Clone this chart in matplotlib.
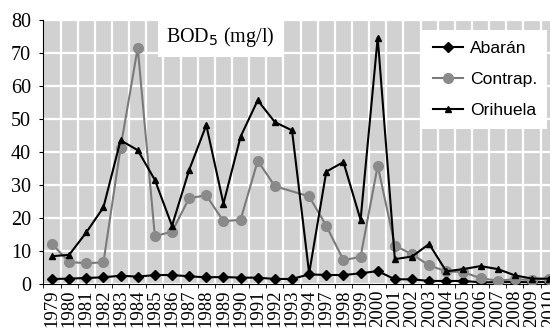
import matplotlib.pyplot as plt
import numpy as np

BG = "#d1d1d1"
GRAY = "#7a7a7a"
SERIF = ["Liberation Serif", "DejaVu Serif"]
SANS = ["Liberation Sans", "DejaVu Sans"]

years = ["1979", "1980", "1981", "1982", "1983", "1984", "1985", "1986",
         "1987", "1988", "1989", "1990", "1991", "1992", "1993", "1994",
         "1997", "1998", "1999", "2000", "2001", "2002", "2003", "2004",
         "2005", "2006", "2007", "2008", "2009", "2010"]

abaran = [1.5, 1.6, 1.8, 2.0, 2.5, 2.2, 2.7, 2.7, 2.3, 2.0, 2.1, 1.9,
          1.9, 1.5, 1.5, 2.9, 2.7, 2.7, 3.2, 3.9, 1.4, 1.4, 0.9, 0.9,
          0.9, 0.5, 0.5, 0.6, 0.5, 0.6]

# no Contrap. value for 1993 (line joins 1992 to 1994)
contrap = [12.1, 6.6, 6.3, 6.5, 41.3, 71.5, 14.5, 15.8, 26.0, 26.8, 19.0,
           19.4, 37.3, 29.6, np.nan, 26.5, 17.6, 7.2, 8.2, 35.8, 11.6, 9.0,
           5.6, 3.8, 3.6, 1.7, 1.0, 1.4, 1.2, 1.6]

orihuela = [8.4, 8.8, 15.6, 23.2, 43.5, 40.5, 31.5, 17.6, 34.5, 48.1, 24.3,
            44.6, 55.6, 49.0, 46.5, 3.2, 34.0, 36.9, 19.4, 74.6, 7.5, 8.3,
            12.1, 3.8, 4.5, 5.4, 4.5, 2.6, 1.6, 1.6]

fig = plt.figure(figsize=(5.5, 3.29), dpi=100)
ax = fig.add_axes([0.079, 0.137, 0.935, 0.803])
ax.set_facecolor(BG)

x = np.arange(len(years))
c = np.array(contrap)
ok = ~np.isnan(c)

ax.plot(x, abaran, color="black", lw=1.5, marker="D", ms=5,
        label="Abarán", zorder=3)
ax.plot(x[ok], c[ok], color=GRAY, lw=1.5, marker="o", ms=7,
        mfc="#8a8a8a", mec="#8a8a8a", label="Contrap.", zorder=3)
ax.plot(x, orihuela, color="black", lw=1.5, marker="^", ms=5,
        label="Orihuela", zorder=4)

ax.set_xlim(-0.5, len(years) - 0.5)
ax.set_ylim(0, 80)
ax.set_yticks(np.arange(0, 81, 10))
ax.set_xticks(x)
ax.set_xticklabels(years, rotation=90, family=SERIF, fontsize=13.5)
ax.set_xticks(np.arange(-0.5, len(years), 1), minor=True)
ax.tick_params(axis="x", which="major", length=0, pad=4)
ax.tick_params(axis="x", which="minor", length=3, direction="out")
ax.tick_params(axis="y", length=3, pad=6, labelsize=14.5)
for lab in ax.get_yticklabels():
    lab.set_family(SERIF)

ax.grid(True, which="minor", axis="x", color="white", lw=1.6)
ax.grid(True, which="major", axis="y", color="white", lw=1.6)
ax.set_axisbelow(True)
for s in ["top", "right"]:
    ax.spines[s].set_visible(False)
ax.spines["left"].set_color("black")
ax.spines["bottom"].set_color("black")

ax.text(0.238, 0.935, "BOD$_5$ (mg/l)", transform=ax.transAxes,
        family=SERIF, fontsize=14.5, va="center", ha="left",
        bbox=dict(boxstyle="square,pad=0.4", fc="white", ec="none"))

leg = ax.legend(loc="upper right", bbox_to_anchor=(0.98, 0.96),
                prop={"family": SANS, "size": 12.6}, frameon=True,
                fancybox=False, edgecolor="none", framealpha=1,
                handlelength=1.7, handletextpad=0.4, labelspacing=0.9,
                borderpad=0.6, borderaxespad=0)

fig.savefig("out.png", dpi=100)
